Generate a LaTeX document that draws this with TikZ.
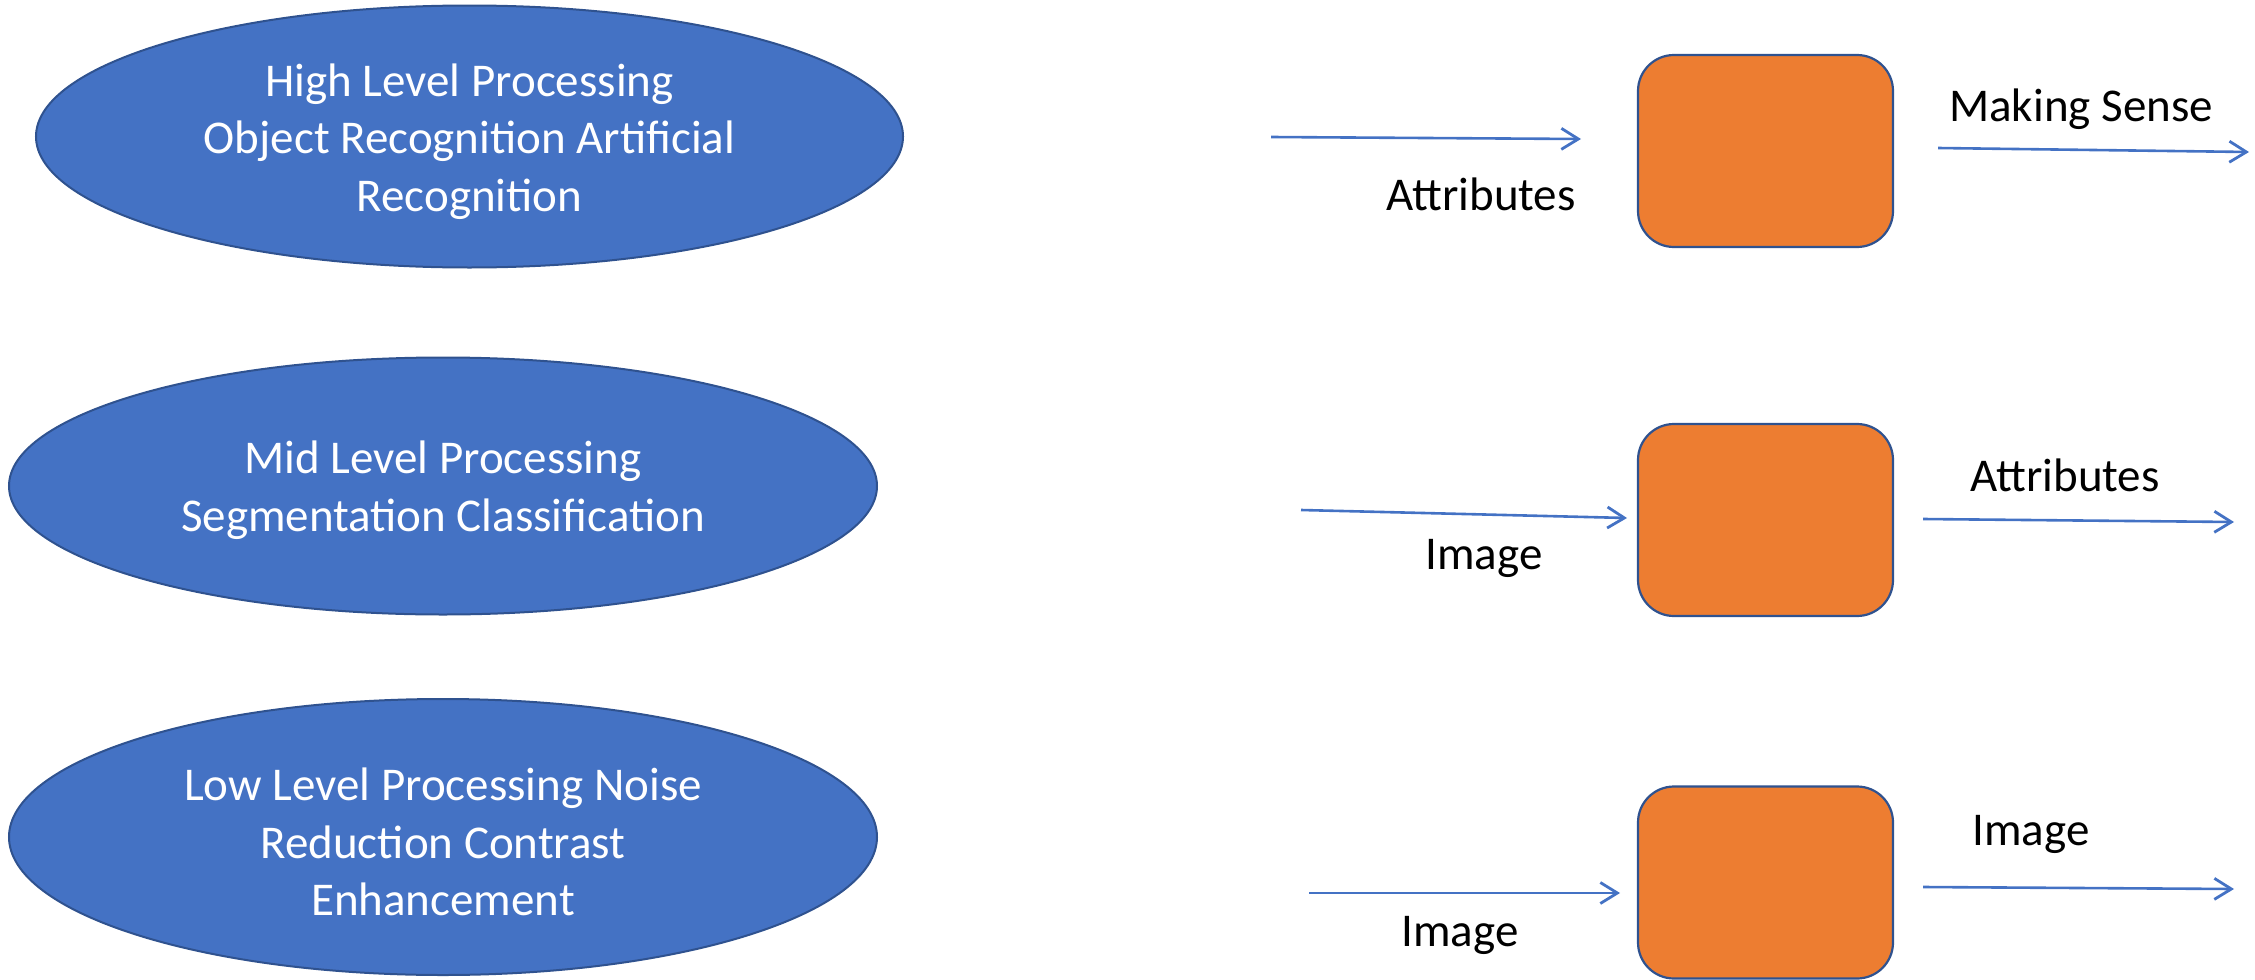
\documentclass[tikz,border=0pt]{standalone}
\usepackage{fontspec}
\setmainfont{Carlito}
\usetikzlibrary{arrows.meta,shapes.geometric}
\definecolor{eblue}{HTML}{4472C4}
\definecolor{edgeblue}{HTML}{2F528F}
\definecolor{orng}{HTML}{ED7D31}
\begin{document}
\begin{tikzpicture}[x=1pt,y=-1pt,
  bigfont/.style={font=\fontsize{47}{57.5}\selectfont},
  proc/.style={ellipse, fill=eblue, draw=edgeblue, line width=2pt, text=white,
    align=center, inner sep=0pt, bigfont},
  stage/.style={rectangle, rounded corners=36pt, fill=orng, draw=edgeblue,
    line width=2.2pt, minimum width=255pt, minimum height=192pt, inner sep=0pt},
  lbl/.style={text=black, inner sep=0pt, bigfont},
  arr/.style={draw=eblue, line width=2.6pt, -{Straight Barb[length=17pt,width=21pt,line width=2.8pt]}}
]
\useasboundingbox (0,0) rectangle (2255,980);

% ellipses
\node[proc, minimum width=867pt, minimum height=262pt] (high) at (469.5,136.5) {};
\node[proc, minimum width=868pt, minimum height=257pt] (mid) at (443,486) {};
\node[proc, minimum width=868pt, minimum height=276pt] (low) at (443,837) {};
\node[text=white, align=center, inner sep=0pt, bigfont] (hight) at ([yshift=-5pt]high.center)
  {High Level Processing\\Object Recognition Artificial\\Recognition};
\node[text=white, align=center, inner sep=0pt, bigfont] (midt) at ([yshift=-4pt]mid.center)
  {Mid Level Processing\\Segmentation Classification};
\node[text=white, align=center, inner sep=0pt, bigfont] (lowt) at ([yshift=-5pt]low.center)
  {Low Level Processing Noise\\Reduction Contrast\\Enhancement};

% boxes
\node[stage] (b1) at (1765.5,151) {};
\node[stage] (b2) at (1765.5,520) {};
\node[stage] (b3) at (1765.5,882.5) {};

% arrow end points
\coordinate (i1s) at (1271,137);
\coordinate (i1e) at (1581,139);
\coordinate (o1s) at (1938,148);
\coordinate (o1e) at (2249,152);
\coordinate (i2s) at (1301,510);
\coordinate (i2e) at (1627,518);
\coordinate (o2s) at (1923,519);
\coordinate (o2e) at (2234,522);
\coordinate (i3s) at (1309,893);
\coordinate (i3e) at (1620,893);
\coordinate (o3s) at (1923,887);
\coordinate (o3e) at (2234,889);

\draw[arr] (i1s) -- (i1e);
\draw[arr] (o1s) -- (o1e);
\draw[arr] (i2s) -- (i2e);
\draw[arr] (o2s) -- (o2e);
\draw[arr] (i3s) -- (i3e);
\draw[arr] (o3s) -- (o3e);

% labels
\node[lbl] (l1in) at (1481,194) {Attributes};
\node[lbl] (l1out) at (2081,109) {Making Sense};
\node[lbl] (l2in) at (1484,558) {Image};
\node[lbl] (l2out) at (2065,475) {Attributes};
\node[lbl] (l3in) at (1460,935) {Image};
\node[lbl] (l3out) at (2031,834) {Image};
\end{tikzpicture}
\end{document}
